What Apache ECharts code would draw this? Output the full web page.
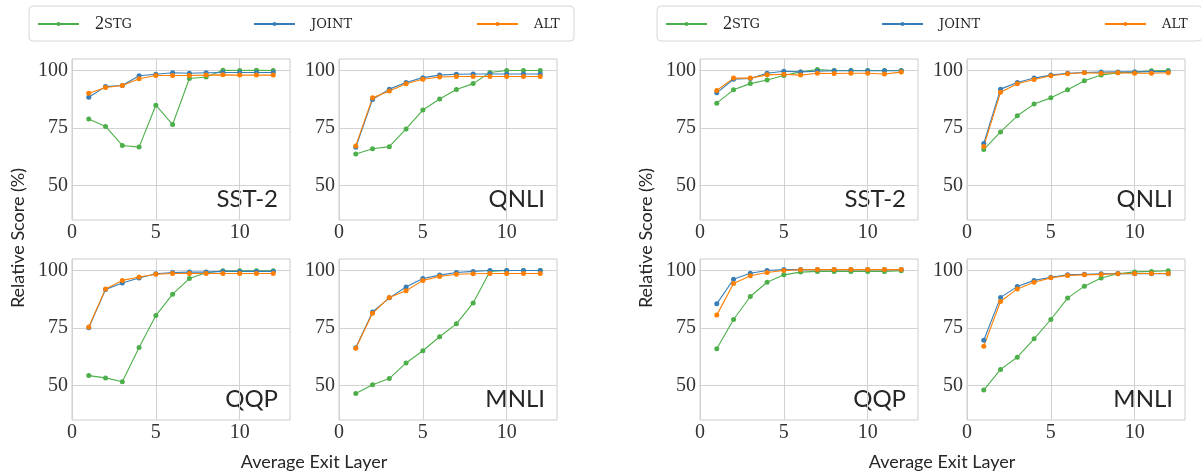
<!DOCTYPE html>
<html lang="en">
<head>
<meta charset="UTF-8">
<title>Relative score vs. average exit layer</title>
<script src="https://cdn.jsdelivr.net/npm/echarts@6/dist/echarts.min.js"></script>
<style>
  html, body { margin: 0; padding: 0; background: #fff; }
  #main { width: 1201px; height: 473px; }
</style>
</head>
<body>
<div id="main"></div>
<script>
// ---- data ----
var layers = [1, 2, 3, 4, 5, 6, 7, 8, 9, 10, 11, 12];
var methods = ['2STG', 'JOINT', 'ALT'];
var tasks = ['SST-2', 'QNLI', 'QQP', 'MNLI'];
var xTicks = [0, 5, 10];
var yTicks = [50, 75, 100];

// left figure
var sst2L_2stg  = [78.9, 75.7, 67.4, 66.7, 84.9, 76.5, 96.5, 97.2, 100.1, 100, 100.1, 100];
var sst2L_joint = [88.4, 93.0, 93.5, 97.7, 98.4, 99.0, 98.8, 99.0, 99.1, 99.1, 99.1, 99.1];
var sst2L_alt   = [90.1, 92.6, 93.5, 96.4, 97.8, 97.8, 97.8, 98.0, 98.1, 98.0, 98.0, 98.0];

var qnliL_2stg  = [63.7, 66.0, 66.9, 74.6, 82.8, 87.6, 91.7, 94.3, 99.1, 100, 100, 100];
var qnliL_joint = [66.6, 87.4, 91.9, 94.8, 96.9, 98.0, 98.4, 98.5, 98.5, 98.5, 98.5, 98.5];
var qnliL_alt   = [67.2, 88.1, 91.1, 94.2, 96.2, 97.2, 97.4, 97.4, 97.4, 97.4, 97.4, 97.4];

var qqpL_2stg   = [54.3, 53.3, 51.6, 66.5, 80.4, 89.7, 96.5, 99.0, 99.9, 99.9, 99.9, 99.9];
var qqpL_joint  = [75.1, 91.7, 94.6, 96.7, 98.6, 99.1, 99.3, 99.3, 99.6, 99.6, 99.6, 99.6];
var qqpL_alt    = [75.4, 92.0, 95.7, 97.2, 98.4, 98.7, 98.7, 98.7, 98.7, 98.7, 98.7, 98.7];

var mnliL_2stg  = [46.5, 50.3, 53.0, 59.8, 65.1, 71.2, 76.8, 85.9, 99.6, 100, 100, 100];
var mnliL_joint = [66.4, 82.0, 88.1, 92.8, 96.5, 98.0, 99.1, 99.6, 100, 100, 100, 100];
var mnliL_alt   = [66.2, 81.4, 88.3, 91.2, 95.7, 97.4, 98.4, 98.6, 98.7, 98.7, 98.7, 98.7];

// right figure
var sst2R_2stg  = [85.8, 91.6, 94.3, 95.9, 97.8, 99.4, 100.4, 100, 100, 100, 100, 100];
var sst2R_joint = [90.3, 96.2, 96.5, 98.8, 99.7, 99.4, 99.7, 99.9, 99.9, 99.9, 99.9, 99.9];
var sst2R_alt   = [91.3, 96.7, 96.7, 98.1, 98.4, 98.0, 98.8, 98.7, 98.8, 98.8, 98.5, 99.3];

var qnliR_2stg  = [65.6, 73.3, 80.3, 85.4, 88.1, 91.6, 95.5, 98.0, 99.0, 99.3, 99.9, 100];
var qnliR_joint = [68.3, 91.9, 94.8, 96.7, 98.0, 98.8, 99.1, 99.3, 99.4, 99.4, 99.5, 99.5];
var qnliR_alt   = [67.0, 90.5, 94.2, 96.1, 97.7, 98.6, 99.0, 98.8, 99.0, 98.8, 98.8, 99.0];

var qqpR_2stg   = [66.0, 78.7, 88.7, 94.9, 98.1, 99.3, 99.6, 99.6, 99.6, 99.6, 99.6, 99.9];
var qqpR_joint  = [85.5, 96.2, 98.8, 100, 100.4, 100.4, 100.4, 100.4, 100.4, 100.4, 100.4, 100.4];
var qqpR_alt    = [80.6, 94.3, 97.7, 99.1, 100, 100.3, 100.4, 100.4, 100.4, 100.4, 100.4, 100.4];

var mnliR_2stg  = [48.0, 57.0, 62.3, 70.3, 78.7, 88.0, 93.2, 96.7, 98.6, 99.4, 99.6, 99.9];
var mnliR_joint = [69.7, 88.3, 93.0, 95.7, 97.1, 98.1, 98.4, 98.6, 98.7, 98.6, 98.6, 98.6];
var mnliR_alt   = [67.1, 86.5, 92.0, 94.9, 96.8, 97.8, 98.1, 98.3, 98.6, 98.7, 98.7, 98.7];

var panels = [
  [sst2L_2stg, sst2L_joint, sst2L_alt],
  [qnliL_2stg, qnliL_joint, qnliL_alt],
  [qqpL_2stg, qqpL_joint, qqpL_alt],
  [mnliL_2stg, mnliL_joint, mnliL_alt],
  [sst2R_2stg, sst2R_joint, sst2R_alt],
  [qnliR_2stg, qnliR_joint, qnliR_alt],
  [qqpR_2stg, qqpR_joint, qqpR_alt],
  [mnliR_2stg, mnliR_joint, mnliR_alt]
];

// ---- layout ----
var colors = ['#4daf4a', '#377eb8', '#ff7f00'];
var groupShift = 628;
var colLeft = [72, 339];
var rowTop = [59, 259];
var plotW = 218, plotH = 161;
var legendItemLeft = [37, 253, 476];
var serifFont = '"Liberation Serif", "DejaVu Serif", serif';
var sansFont = 'Lato, "DejaVu Sans", sans-serif';

var grids = [], xAxes = [], yAxes = [], series = [], legends = [], graphics = [];

panels.forEach(function (vals, idx) {
  var g = Math.floor(idx / 4), t = idx % 4;
  var left = colLeft[t % 2] + g * groupShift;
  var top = rowTop[Math.floor(t / 2)];
  grids.push({
    left: left, top: top, width: plotW, height: plotH,
    show: true, borderColor: '#cccccc', borderWidth: 1, backgroundColor: '#fff'
  });
  xAxes.push({
    type: 'value', gridIndex: idx, min: 0, max: 13,
    axisLine: { show: false },
    axisTick: { show: false, customValues: xTicks },
    axisLabel: { customValues: xTicks, fontFamily: serifFont, fontSize: 20, color: '#333', margin: 3 },
    splitLine: { lineStyle: { color: '#d2d2d2', width: 1 } }
  });
  yAxes.push({
    type: 'value', gridIndex: idx, min: 35, max: 105,
    axisLine: { show: false },
    axisTick: { show: false, customValues: yTicks },
    axisLabel: { customValues: yTicks, fontFamily: serifFont, fontSize: 20, color: '#333', margin: 4 },
    splitLine: { lineStyle: { color: '#d2d2d2', width: 1 } }
  });
  vals.forEach(function (v, m) {
    series.push({
      name: methods[m], type: 'line', xAxisIndex: idx, yAxisIndex: idx,
      data: layers.map(function (l, i) { return [l, v[i]]; }),
      symbol: 'circle', symbolSize: 5, showSymbol: true,
      lineStyle: { width: 1.1, color: colors[m] },
      itemStyle: { color: colors[m] },
      animation: false
    });
  });
  graphics.push({
    type: 'text', x: left + plotW - 12, y: top + plotH - 21,
    style: { text: tasks[t], font: '24px ' + sansFont, fill: '#262626', textAlign: 'right', textVerticalAlign: 'middle' }
  });
});

[0, 1].forEach(function (g) {
  var dx = g * groupShift;
  graphics.push({
    type: 'rect', z: -1,
    shape: { x: 29 + dx, y: 6, width: 545, height: 35, r: 4 },
    style: { fill: '#fff', stroke: '#d6d6d6', lineWidth: 1 }
  });
  graphics.push({
    type: 'text', x: 18.5 + dx, y: 238, rotation: Math.PI / 2,
    style: { text: 'Relative Score (%)', font: '18px ' + sansFont, fill: '#262626', textAlign: 'center', textVerticalAlign: 'middle' }
  });
  graphics.push({
    type: 'text', x: 314 + dx, y: 462,
    style: { text: 'Average Exit Layer', font: '18px ' + sansFont, fill: '#262626', textAlign: 'center', textVerticalAlign: 'middle' }
  });
  methods.forEach(function (name, m) {
    legends.push({
      data: [name], left: legendItemLeft[m] + dx, top: 15, padding: 0,
      itemWidth: 41, itemHeight: 5, selectedMode: false,
      formatter: function (n) {
        return n === '2STG' ? '{s|}{a|2}{b|STG}' : '{s|}{b|' + n + '}';
      },
      textStyle: {
        color: '#262626', fontSize: 18, lineHeight: 18,
        rich: {
          s: { width: 11, verticalAlign: 'middle' },
          a: { fontFamily: serifFont, fontSize: 18, color: '#262626', verticalAlign: 'middle' },
          b: { fontFamily: '"DejaVu Serif", serif', fontSize: 13, color: '#262626', verticalAlign: 'middle', padding: [2, 0, 0, 0] }
        }
      }
    });
  });
});

var chart = echarts.init(document.getElementById('main'), null, { renderer: 'canvas' });
chart.setOption({
  backgroundColor: '#fff',
  animation: false,
  grid: grids,
  xAxis: xAxes,
  yAxis: yAxes,
  legend: legends,
  graphic: graphics,
  series: series
});
</script>
</body>
</html>
